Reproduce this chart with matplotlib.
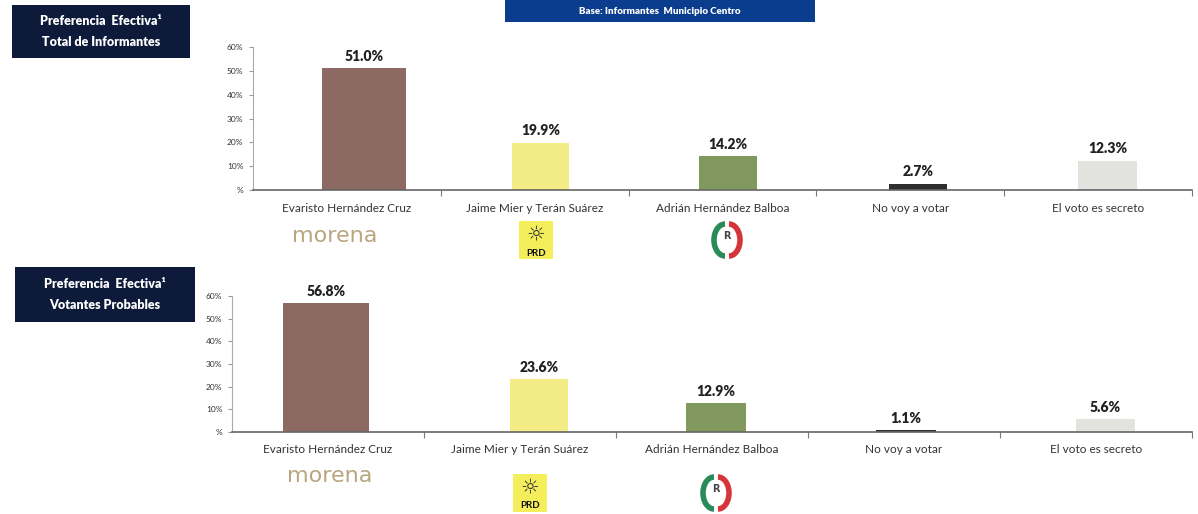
import matplotlib
matplotlib.use("Agg")
import matplotlib.pyplot as plt
from matplotlib.patches import Rectangle, Arc

plt.rcParams['font.family'] = ['Lato', 'DejaVu Sans']

categories = ["Evaristo Hernández Cruz", "Jaime Mier y Terán Suárez",
              "Adrián Hernández Balboa", "No voy a votar", "El voto es secreto"]
total_values = [51.0, 19.9, 14.2, 2.7, 12.3]
probables_values = [56.8, 23.6, 12.9, 1.1, 5.6]
ytick_values = [0, 10, 20, 30, 40, 50, 60]
ytick_labels = ["%", "10%", "20%", "30%", "40%", "50%", "60%"]
box_titles = [["Preferencia  Efectiva¹", "Total de Informantes"],
              ["Preferencia  Efectiva¹", "Votantes Probables"]]
base_title = "Base: Informantes  Municipio Centro"

bar_colors = ["#8c6a63", "#f3ec86", "#81995f", "#2e2e2e", "#e2e2de"]
bar_widths = [0.45, 0.30, 0.31, 0.31, 0.31]

W, H = 1198, 514
fig = plt.figure(figsize=(W / 100, H / 100), dpi=100)
fig.patch.set_facecolor("white")


def fx(px):
    return px / W


def fy(py):
    return 1 - py / H


def make_panel(rect, values, offsets):
    ax = fig.add_axes(rect)
    x = list(range(len(categories)))
    xs = [xi + o for xi, o in zip(x, offsets)]
    bars = ax.bar(xs, values, width=bar_widths, color=bar_colors, zorder=2)
    for b, v in zip(bars, values):
        ax.text(b.get_x() + b.get_width() / 2, v + 2.2, f"{v:.1f}%",
                ha="center", va="bottom", fontsize=10, fontweight="heavy",
                color="#222222")
    ax.set_xlim(-0.5, len(categories) - 0.5)
    ax.set_ylim(0, 60)
    ax.set_yticks(ytick_values)
    ax.set_yticklabels(ytick_labels, fontsize=6, color="#333333")
    ax.set_xticks([i + 0.5 for i in range(len(categories))])
    ax.set_xticklabels([])
    ax.tick_params(axis="x", length=4, direction="out", color="#777777")
    ax.tick_params(axis="y", length=3, color="#999999", pad=4)
    for s in ["top", "right"]:
        ax.spines[s].set_visible(False)
    ax.spines["left"].set_color("#aaaaaa")
    ax.spines["bottom"].set_color("#666666")
    ax.spines["bottom"].set_linewidth(1.2)
    for i, c in enumerate(categories):
        ax.text(i, -5.5, c, ha="center", va="top", fontsize=8.5, color="#333333")
    return ax


ax1 = make_panel([fx(253), fy(190), fx(1192) - fx(253), fy(47) - fy(190)],
                 total_values, [0.09, 0.03, 0.03, 0.04, 0.05])
ax2 = make_panel([fx(232), fy(432), fx(1192) - fx(232), fy(296) - fy(432)],
                 probables_values, [-0.01, 0.1, 0.02, 0.01, 0.05])


def nav_box(x0, y0, x1, y1, lines, color="#0d1a3a", fs=9):
    fig.patches.append(Rectangle((fx(x0), fy(y1)), fx(x1) - fx(x0), fy(y0) - fy(y1),
                                 transform=fig.transFigure, facecolor=color,
                                 edgecolor="none", zorder=1))
    n = len(lines)
    for k, t in enumerate(lines):
        yc = y0 + (y1 - y0) * (k + 0.5) / n + (3 if k == 0 else -3) * (n > 1)
        fig.text(fx((x0 + x1) / 2), fy(yc), t, ha="center", va="center",
                 fontsize=fs, fontweight="heavy", color="white", zorder=2)


nav_box(12, 5, 190, 58, box_titles[0])
nav_box(15, 267, 195, 322, box_titles[1])
nav_box(505, 0, 815, 22, [base_title], color="#0b3d8f", fs=7)


def logos(y_morena, cx, y_logo):
    # morena
    fig.text(fx(cx[0]), fy(y_morena), "morena", ha="center", va="center",
             fontsize=16, color="#b9a57f", family=["DejaVu Sans"])
    # PRD
    px, py = cx[1], y_logo
    fig.patches.append(Rectangle((fx(px - 17), fy(py + 19)), fx(34), 38 / H,
                                 transform=fig.transFigure, facecolor="#f4ee5a",
                                 edgecolor="none"))
    fig.text(fx(px), fy(py - 6), "☼", ha="center", va="center", fontsize=15,
             color="#333333", family=["DejaVu Sans"])
    fig.text(fx(px), fy(py + 13), "PRD", ha="center", va="center", fontsize=7,
             fontweight="bold", color="#111111")
    # PRI
    rx, ry = cx[2], y_logo
    fig.patches.append(Arc((fx(rx - 2), fy(ry)), 22 / W, 32 / H, theta1=90,
                           theta2=270, transform=fig.transFigure,
                           color="#2a8a5a", lw=4))
    fig.patches.append(Arc((fx(rx + 2), fy(ry)), 22 / W, 32 / H, theta1=-90,
                           theta2=90, transform=fig.transFigure,
                           color="#d6353a", lw=4))
    fig.text(fx(rx), fy(ry - 4), "R", ha="center", va="center", fontsize=7,
             fontweight="bold", color="#444444", family=["DejaVu Sans"])


logos(236, [335, 536, 727], 240)
logos(476, [330, 530, 716], 493)

fig.savefig("out.png", dpi=100, facecolor="white")
